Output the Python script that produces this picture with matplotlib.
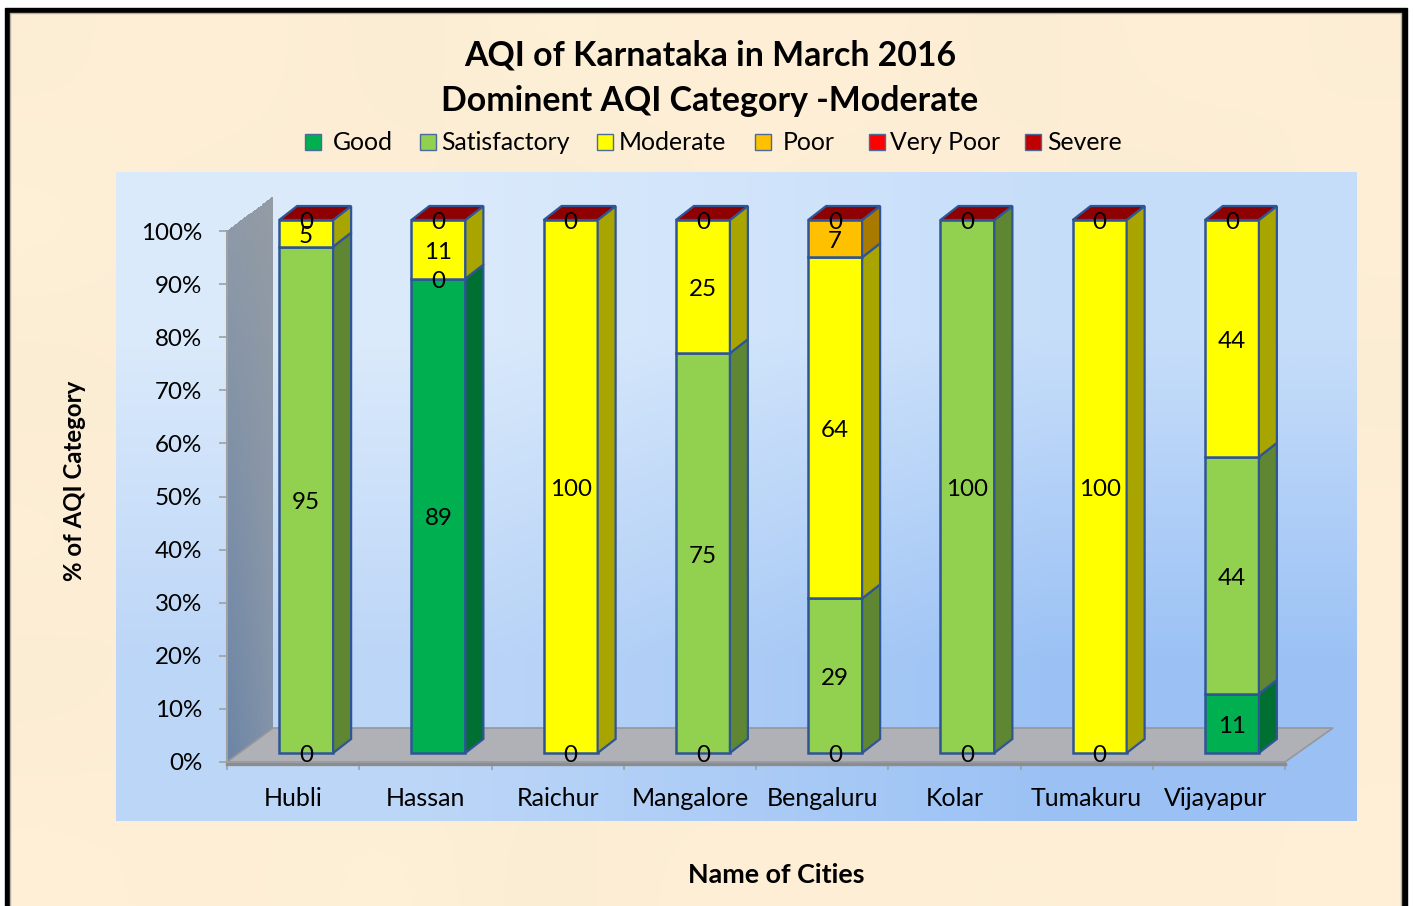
import numpy as np
import matplotlib
matplotlib.use("Agg")
import matplotlib.pyplot as plt
from matplotlib.patches import Polygon, Rectangle
from matplotlib.transforms import ScaledTranslation

plt.rcParams['font.family'] = ['Lato', 'DejaVu Sans']

cities = ["Hubli", "Hassan", "Raichur", "Mangalore", "Bengaluru", "Kolar", "Tumakuru", "Vijayapur"]
good = [0, 89, 0, 0, 0, 0, 0, 11]
satisfactory = [95, 0, 0, 75, 29, 100, 0, 44]
moderate = [5, 11, 100, 25, 64, 0, 100, 44]
poor = [0, 0, 0, 0, 7, 0, 0, 0]
very_poor = [0, 0, 0, 0, 0, 0, 0, 0]
severe = [0, 0, 0, 0, 0, 0, 0, 0]

series_names = ["Good", "Satisfactory", "Moderate", "Poor", "Very Poor", "Severe"]
face_colors = ["#00b050", "#92d050", "#ffff00", "#ffc000", "#ff0000", "#c00000"]
side_colors = ["#006f32", "#5f8733", "#a8a400", "#a87b00", "#a80000", "#800000"]
edge = "#2f5597"
y_ticks = [0, 10, 20, 30, 40, 50, 60, 70, 80, 90, 100]

# pixel layout of the picture
W, H = 1414, 906
left, right, top, bottom = 227, 1285, 231, 762
px_x = 8 / (right - left)
px_y = 100 / (bottom - top)

fig = plt.figure(figsize=(W / 100, H / 100), dpi=100, facecolor="white")

# background, frame and all the loose text go here
bg = fig.add_axes([0, 0, 1, 1])
bg.add_patch(Rectangle((5, 8), 1402, 900, color="black", zorder=-2))
paper = [[.97, .98, .96, .99, .97, .98, .96, .98, .97],
         [.99, .96, .98, .95, .98, .96, .98, .95, .98],
         [.96, .98, .95, .98, .96, .98, .97, .98, .96],
         [.98, .95, .98, .96, .99, .95, .98, .96, .98],
         [.96, .98, .96, .98, .95, .98, .96, .98, .97],
         [.98, .97, .99, .96, .98, .97, .98, .97, .98]]
paper = np.array(paper)[:, :, None] * np.array([1.0, 0.96, 0.86]) + np.array([0.02, 0.0, 0.0])
bg.imshow(np.clip(paper, 0, 1), extent=(10, 1401, 906, 13), aspect="auto", interpolation="bicubic", zorder=-1)
bg.add_patch(Rectangle((10, 13), 1391, 895, fill=False, ec="#b5b0a5", lw=1, zorder=0))
panel = np.array([[[.86, .92, .985], [.78, .87, .98]], [[.74, .84, .97], [.61, .76, .96]]])
bg.imshow(panel, extent=(116, 1357, 821, 172), aspect="auto", interpolation="bilinear", zorder=0)
bg.set_xlim(0, W)
bg.set_ylim(H, 0)
bg.axis("off")

bg.text(710, 55, "AQI of Karnataka in March 2016", ha="center", va="center", fontsize=24.4, fontweight="bold")
bg.text(710, 101, "Dominent AQI Category -Moderate", ha="center", va="center", fontsize=24.4, fontweight="bold")
bg.text(75, 481, "% of AQI Category", rotation=90, ha="center", va="center", fontsize=17.3, fontweight="bold")
bg.text(776, 875, "Name of Cities", ha="center", va="center", fontsize=19.4, fontweight="bold")

legend_sq = [305, 420, 597, 755, 869, 1025]
legend_txt = [333, 441, 619, 783, 890, 1047]
for name, c, sx, tx in zip(series_names, face_colors, legend_sq, legend_txt):
    bg.add_patch(Rectangle((sx, 134), 16, 16, fc=c, ec="#4a6a9a", lw=1))
    bg.text(tx, 143, name, ha="left", va="center", fontsize=17.8)

# the chart itself, 0-8 categories and 0-100 percent
ax = fig.add_axes([left / W, 1 - bottom / H, (right - left) / W, (bottom - top) / H], facecolor="none")
ax.set_xlim(0, len(cities))
ax.set_ylim(0, 100)
for s in ax.spines.values():
    s.set_visible(False)

wall_dx, wall_dy = 46 * px_x, 34 * px_y
floor_dx = 48 * px_x
bar_dx, bar_dy = 18 * px_x, 14 * px_y
bar_w = 54 * px_x
bar_shift_x, bar_shift_y = 13 * px_x, 9 * px_y
bar_scale = 533 / 531

# back wall, skewed mesh so it gets the slanted top and bottom
u = np.linspace(0, 1, 25)
v = np.linspace(0, 1, 41)
uu, vv = np.meshgrid(u, v)
wall_x = uu * wall_dx
wall_y = vv * 100 + uu * wall_dy
uc, vc = np.meshgrid((u[:-1] + u[1:]) / 2, (v[:-1] + v[1:]) / 2)
wall_low_l, wall_low_r = np.array([.42, .52, .65]), np.array([.52, .58, .66])
wall_up_l, wall_up_r = np.array([.55, .60, .66]), np.array([.58, .61, .64])
wall_c = ((1 - vc) * (1 - uc))[..., None] * wall_low_l + ((1 - vc) * uc)[..., None] * wall_low_r \
    + (vc * (1 - uc))[..., None] * wall_up_l + (vc * uc)[..., None] * wall_up_r
wall = ax.pcolormesh(wall_x, wall_y, wall_c, shading="flat", zorder=1, antialiased=False, linewidth=0)
wall.set_clip_on(False)

ax.add_patch(Polygon([(0, 0), (8, 0), (8 + floor_dx, wall_dy), (wall_dx, wall_dy)], closed=True,
                     fc="#b0b1b6", ec="#96979b", lw=1.2, zorder=2, clip_on=False))
ax.plot([0, 8], [-0.3, -0.3], color="#8c8c8c", lw=2.4, zorder=3, clip_on=False)
ax.plot([0, 0], [0, 100], color="#a0a0a0", lw=1.5, zorder=3, clip_on=False)

values = np.array([good, satisfactory, moderate, poor, very_poor, severe], dtype=float)
totals = values.sum(axis=0)
shares = values / totals * 100 * bar_scale

for i, city in enumerate(cities):
    x0 = i + 0.5 + bar_shift_x - bar_w / 2
    x1 = x0 + bar_w
    base = bar_shift_y
    seen = set()
    labels = []
    for k in range(len(series_names)):
        h = shares[k, i]
        if h > 0:
            ax.bar(x0, h, width=bar_w, bottom=base, align="edge", color=face_colors[k], edgecolor=edge,
                   linewidth=1.8, zorder=5, clip_on=False)
            ax.add_patch(Polygon([(x1, base), (x1 + bar_dx, base + bar_dy), (x1 + bar_dx, base + h + bar_dy),
                                  (x1, base + h)], closed=True, fc=side_colors[k], ec=edge, lw=1.6,
                                 zorder=5, clip_on=False))
        pos = round(base + h / 2, 3)
        if pos not in seen:
            seen.add(pos)
            labels.append((pos, values[k, i]))
        base += h
    ax.add_patch(Polygon([(x0, base), (x0 + bar_dx, base + bar_dy), (x1 + bar_dx, base + bar_dy), (x1, base)],
                         closed=True, fc="#8f0000", ec=edge, lw=1.6, zorder=5, clip_on=False))
    for pos, v_ in labels:
        ax.text((x0 + x1) / 2, pos - 3 * px_y, f"{v_:.0f}", ha="center", va="center", fontsize=17.4,
                zorder=6, clip_on=False)

ax.set_xlim(0, len(cities))
ax.set_ylim(0, 100)
ax.set_xticks(range(len(cities) + 1))
ax.set_xticks([i + 0.5 for i in range(len(cities))], cities, minor=True)
ax.tick_params(axis="x", which="major", length=6, width=1.2, color="#a0a0a0", labelbottom=False)
ax.tick_params(axis="x", which="minor", length=0, pad=18, labelsize=18)
ax.set_yticks(y_ticks, [f"{t}%" for t in y_ticks])
ax.tick_params(axis="y", length=6, width=1.2, color="#a0a0a0", pad=12, labelsize=17.4)

# last city label sits a little left of its slot
last = ax.get_xticklabels(minor=True)[-1]
last.set_transform(last.get_transform() + ScaledTranslation(-3 / 100, 0, fig.dpi_scale_trans))

fig.savefig("out.png", dpi=100)
